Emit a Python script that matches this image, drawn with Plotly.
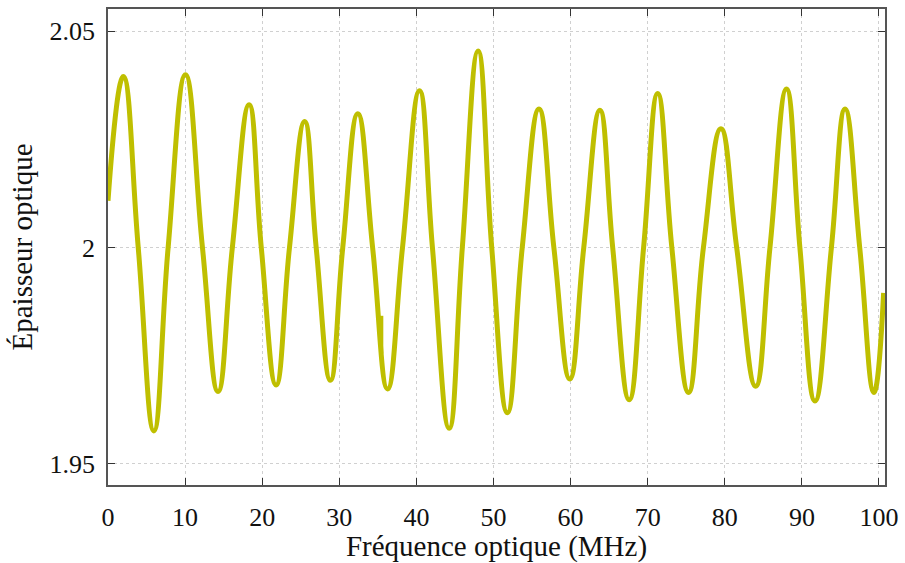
import plotly.graph_objects as go

# Points (peaks, crossings of 2.0, troughs)
freq_mhz = [0.0, 1.98, 3.92, 5.95, 7.80, 10.05, 12.25, 14.27, 16.13, 18.3, 19.88,
            21.8, 23.54, 25.5, 27.0, 28.85, 30.45, 32.4, 34.32, 36.26, 38.2,
            40.4, 42.08, 44.25, 45.96, 48.0, 49.77, 51.8, 53.73, 55.9, 57.83,
            59.9, 61.71, 63.8, 65.46, 67.6, 69.47, 71.3, 73.13, 75.3, 77.23,
            79.5, 81.54, 84.0, 85.86, 88.0, 89.74, 91.7, 93.83, 95.6, 97.50,
            99.35, 100.6]
epaisseur = [2.0108, 2.0395, 2.0, 1.9576, 2.0, 2.0399, 2.0, 1.9667, 2.0, 2.0330, 2.0,
             1.9682, 2.0, 2.0291, 2.0, 1.9693, 2.0, 2.0309, 2.0, 1.9673, 2.0,
             2.0362, 2.0, 1.9582, 2.0, 2.0454, 2.0, 1.9618, 2.0, 2.0320, 2.0,
             1.9696, 2.0, 2.0317, 2.0, 1.9648, 2.0, 2.0356, 2.0, 1.9665, 2.0,
             2.0274, 2.0, 1.9679, 2.0, 2.0366, 2.0, 1.9645, 2.0, 2.0320, 2.0,
             1.9665, 1.9895]

# small glitch visible near 35.4 MHz
glitch_x = [35.45, 35.45]
glitch_y = [1.9842, 1.9755]

x_ticks = [0, 10, 20, 30, 40, 50, 60, 70, 80, 90, 100]
y_ticks = [1.95, 2.0, 2.05]
y_tick_text = ["1.95", "2", "2.05"]

line_color = "#bfbf00"
font_family = "Liberation Serif"
text_color = "#111111"

fig = go.Figure()
fig.add_trace(go.Scatter(x=freq_mhz, y=epaisseur, mode="lines",
                         line=dict(color=line_color, width=5, shape="spline", smoothing=1.3),
                         showlegend=False))
fig.add_trace(go.Scatter(x=glitch_x, y=glitch_y, mode="lines",
                         line=dict(color=line_color, width=4),
                         showlegend=False))

axis_common = dict(showline=True, mirror="ticks", linecolor="#555555", linewidth=1.5,
                   ticks="inside", ticklen=7, tickcolor="#333333", tickwidth=1,
                   showgrid=True, gridcolor="#d0d0d0", griddash="dot", gridwidth=1,
                   zeroline=False, tickfont=dict(family=font_family, size=26, color=text_color))

fig.update_xaxes(range=[0, 100.78], tickvals=x_ticks,
                 title=dict(text="Fréquence optique (MHz)",
                            font=dict(family=font_family, size=29, color=text_color), standoff=4),
                 ticklabelstandoff=8, **axis_common)
fig.update_yaxes(range=[1.9451, 2.0551], tickvals=y_ticks, ticktext=y_tick_text,
                 title=dict(text="Épaisseur optique",
                            font=dict(family=font_family, size=29, color=text_color), standoff=8),
                 ticklabelstandoff=6, **axis_common)

fig.update_layout(width=905, height=563, margin=dict(l=108, r=18, t=7, b=76),
                  paper_bgcolor="white", plot_bgcolor="white")

fig.write_html("out.html", config={"displayModeBar": False},
               post_script="document.body.style.margin='0';")
